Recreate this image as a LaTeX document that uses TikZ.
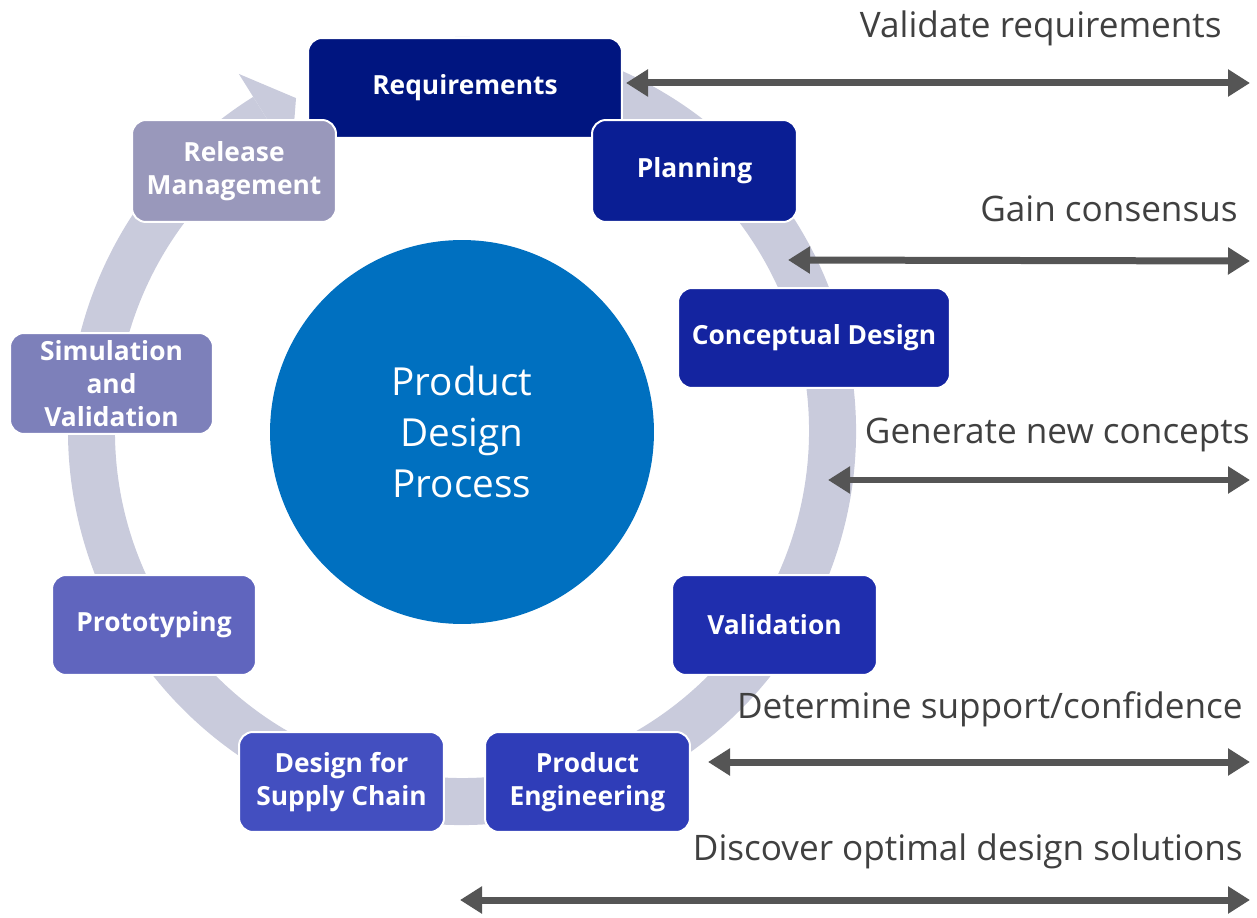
\documentclass[tikz,border=0pt]{standalone}
\usepackage{fontspec}
\setmainfont{Open Sans}
\usetikzlibrary{arrows.meta}

\definecolor{ringgray}{RGB}{201,203,220}
\definecolor{hubblue}{RGB}{0,112,192}
\definecolor{spangray}{RGB}{85,85,85}
\definecolor{notegray}{RGB}{64,64,64}
\definecolor{stA}{RGB}{0,21,128}
\definecolor{stB}{RGB}{10,30,148}
\definecolor{stC}{RGB}{20,36,160}
\definecolor{stD}{RGB}{31,46,174}
\definecolor{stE}{RGB}{47,61,184}
\definecolor{stF}{RGB}{67,79,192}
\definecolor{stG}{RGB}{96,101,190}
\definecolor{stH}{RGB}{125,128,186}
\definecolor{stI}{RGB}{153,152,187}

\tikzset{
  stage/.style={draw=white,line width=0.04cm,rounded corners=0.28cm,text=white,
    font=\bfseries\fontsize{15}{19}\selectfont,align=center,inner sep=0pt},
  span/.style={{Triangle[length=0.44cm,width=0.52cm]}-{Triangle[length=0.44cm,width=0.52cm]},
    line width=0.14cm,spangray},
  note/.style={notegray,font=\fontsize{20}{24}\selectfont,anchor=base east,inner sep=0pt}
}

\begin{document}
\begin{tikzpicture}[x=0.02cm,y=-0.02cm]
\useasboundingbox (0,0) rectangle (1257,918);

\begin{scope}[shift={(462,431)},y=0.02cm]
\fill[ringgray] (100:394) arc[start angle=100,end angle=-238,radius=394]
    -- (-238:347) arc[start angle=-238,end angle=100,radius=347] -- cycle;
\fill[ringgray] (-238:322) -- (-238:421) -- (-243.5:372) -- cycle;
\end{scope}

\node [circle,fill=hubblue,minimum size=7.68cm,inner sep=0pt,text=white,align=center,
    font=\fontsize{22}{29}\selectfont] (hub) at (462,432) {Product\\Design\\Process};

\node [stage,fill=stA,minimum width=6.28cm,minimum height=2cm] (req) at (465,88) {Requirements};
\node [stage,fill=stB,minimum width=4.1cm,minimum height=2.04cm] (plan) at (694.5,171) {Planning};
\node [stage,fill=stC,minimum width=5.44cm,minimum height=2cm] (concept) at (814,338) {Conceptual Design};
\node [stage,fill=stD,minimum width=4.1cm,minimum height=2cm] (valid) at (774.5,625) {Validation};
\node [stage,fill=stE,minimum width=4.1cm,minimum height=2cm] (prodeng) at (587.5,782) {Product\\Engineering};
\node [stage,fill=stF,minimum width=4.1cm,minimum height=2cm] (supply) at (341.5,782) {Design for\\Supply Chain};
\node [stage,fill=stG,minimum width=4.08cm,minimum height=2cm] (proto) at (154,625) {Prototyping};
\node [stage,fill=stH,minimum width=4.06cm,minimum height=2.02cm] (sim) at (111.5,383.5) {Simulation\\and\\Validation};
\node [stage,fill=stI,minimum width=4.08cm,minimum height=2.04cm] (release) at (234,171) {Release\\Management};

\coordinate (s1l) at (626,83);  \coordinate (s1r) at (1250,83);
\coordinate (s2l) at (788,260); \coordinate (s2r) at (1250,261);
\coordinate (s3l) at (828,480); \coordinate (s3r) at (1250,480);
\coordinate (s4l) at (708,762); \coordinate (s4r) at (1250,762);
\coordinate (s5l) at (460,900); \coordinate (s5r) at (1250,900);
\draw [span] (s1l) -- (s1r);
\draw [span] (s2l) -- (s2r);
\draw [span] (s3l) -- (s3r);
\draw [span] (s4l) -- (s4r);
\draw [span] (s5l) -- (s5r);

\node [note] (n1) at (1222,38) {Validate requirements};
\node [note] (n2) at (1238,222) {Gain consensus};
\node [note] (n3) at (1250,444) {Generate new concepts};
\node [note] (n4) at (1243,718) {Determine support/confidence};
\node [note] (n5) at (1243,860) {Discover optimal design solutions};
\end{tikzpicture}
\end{document}
